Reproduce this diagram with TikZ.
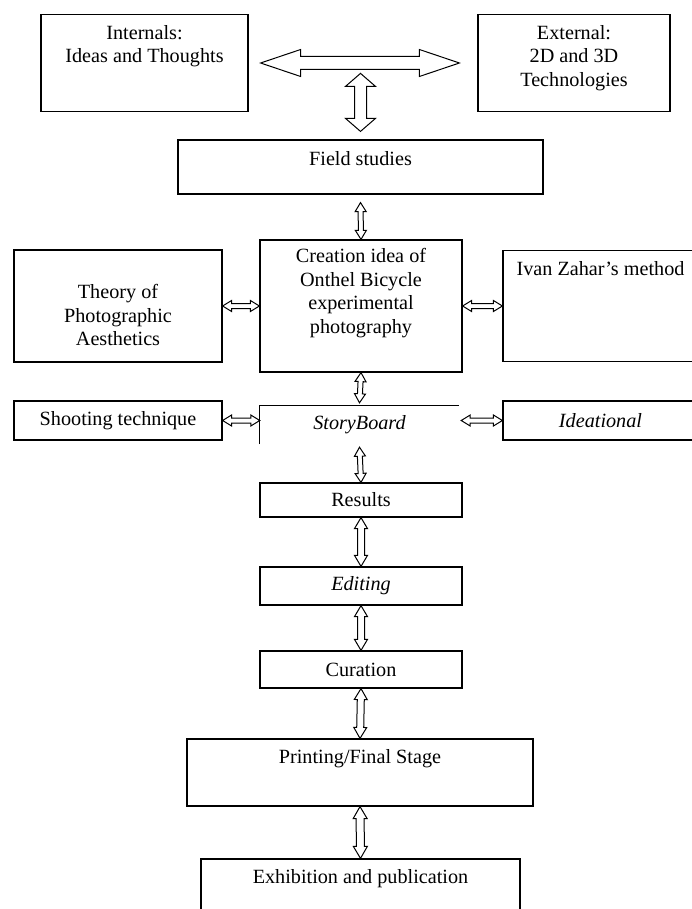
\documentclass[tikz,border=0pt]{standalone}
\usepackage{fontspec}
\setmainfont{Liberation Serif}[Ligatures=ResetAll]
\usepackage{tikz}
\usetikzlibrary{calc, positioning}

% hollow block arrow with a head at both ends
% #1, #2 end points, #3 half shaft, #4 half head, #5 head length
\newcommand{\blockarrow}[5]{%
	\path ($(#1)!#5!(#2)$) coordinate (ba) ($(#2)!#5!(#1)$) coordinate (bb);
	\draw[arrowline] (#1) -- ($(ba)!#4!90:(#2)$) -- ($(ba)!#3!90:(#2)$)
		-- ($(bb)!#3!-90:(#1)$) -- ($(bb)!#4!-90:(#1)$) -- (#2)
		-- ($(bb)!#4!90:(#1)$) -- ($(bb)!#3!90:(#1)$)
		-- ($(ba)!#3!-90:(#2)$) -- ($(ba)!#4!-90:(#2)$) -- cycle;
}
\newcommand{\smallarrow}[2]{\blockarrow{#1}{#2}{2.5pt}{5.5pt}{9pt}}
\newcommand{\midarrow}[2]{\blockarrow{#1}{#2}{3.5pt}{6.5pt}{11pt}}

\tikzset{
	box/.style={draw, line width=1.2pt, inner sep=0pt, align=center},
	txt/.style={inner sep=0pt, align=center},
	arrowline/.style={draw, line width=1pt, line join=miter, fill=white},
}

\begin{document}
\begin{tikzpicture}[x=1pt, y=-1pt,
			font=\fontsize{20.2}{23.5}\selectfont]
		\useasboundingbox (0,0) rectangle (691,909);

		% top row
		\node[box, minimum width=207pt, minimum height=97pt] (internals) at (144.5,63) {};
		\node[txt, below=11pt of internals.north] (internalstxt)
			{\fontsize{20.2}{24.5}\selectfont Internals:\\Ideas and Thoughts};
		\node[box, minimum width=192pt, minimum height=97pt] (external) at (574,63) {};
		\node[txt, below=11pt of external.north] (externaltxt)
			{\fontsize{20.2}{24.5}\selectfont External:\\2D and 3D\\Technologies};

		\node[box, minimum width=365pt, minimum height=54pt] (field) at (360.5,167) {};
		\node[txt] (fieldtxt) at ($(field.center)+(0,-8)$) {Field studies};

		% middle rows
		\node[box, minimum width=202pt, minimum height=132pt] (creation) at (361,306) {};
		\node[txt] (creationtxt) at ($(creation.center)+(0,-13)$)
			{Creation idea of\\Onthel Bicycle\\experimental\\photography};
		\node[box, minimum width=208pt, minimum height=112pt] (theory) at (118,306) {};
		\node[txt] (theorytxt) at ($(theory.center)+(0,9)$)
			{Theory of\\Photographic\\Aesthetics};
		\node[box, minimum width=195pt, minimum height=111pt] (ivan) at (600.5,306) {};
		\node[txt, below=11pt of ivan.north] (ivantxt) {Ivan Zahar's method};

		\node[box, minimum width=208pt, minimum height=39pt] (shooting) at (118,420.5) {Shooting technique};
		\node[txt, minimum width=199pt, minimum height=38pt] (storyboard) at (359.5,425) {\textit{StoryBoard}};
		\node[box, minimum width=195pt, minimum height=39pt] (ideational) at (600.5,420.5) {\textit{Ideational}};
		\draw[line width=1.2pt] (storyboard.south west) -- (storyboard.north west) -- (storyboard.north east);

		% lower chain
		\node[box, minimum width=202pt, minimum height=34pt] (results) at (361,500) {Results};
		\node[box, minimum width=202pt, minimum height=38pt] (editing) at (361,586) {\textit{Editing}};
		\node[box, minimum width=202pt, minimum height=37pt] (curation) at (361,669.5) {Curation};
		\node[box, minimum width=346pt, minimum height=67pt] (printing) at (360,772.5) {};
		\node[txt, below=11pt of printing.north] (printingtxt) {Printing/Final Stage};
		\node[box, minimum width=319pt, minimum height=71pt] (exhibition) at (360.5,894.5) {};
		\node[txt, below=11pt of exhibition.north] (exhibitiontxt) {Exhibition and publication};

		% arrows
		\coordinate (ie) at ($(internals.east)+(12,0)$);
		\coordinate (ee) at ($(external.west)+(-18,0)$);
		\blockarrow{ie}{ee}{6.5pt}{13.5pt}{40pt}
		\coordinate (ft) at ($(field.north)+(0,-66)$);
		\coordinate (fn) at ($(field.north)+(0,-8)$);
		\blockarrow{ft}{fn}{6pt}{15pt}{13pt}

		\coordinate (fs) at ($(field.south)+(0,8)$);
		\smallarrow{fs}{creation.north}
		\smallarrow{theory.east}{creation.west}
		\smallarrow{creation.east}{ivan.west}
		\coordinate (sn) at ($(storyboard.north)+(0,-3)$);
		\smallarrow{creation.south}{sn}
		\coordinate (sw) at (shooting.east -| storyboard.west);
		\smallarrow{shooting.east}{sw}
		\coordinate (se) at ($(ideational.west -| storyboard.east)+(2,0)$);
		\smallarrow{se}{ideational.west}
		\coordinate (ss) at ($(storyboard.south)+(0,3)$);
		\smallarrow{ss}{results.north}

		\foreach \a/\b in {results/editing, editing/curation, curation/printing} {
				\midarrow{\a.south}{\b.north}
			}
		\blockarrow{printing.south}{exhibition.north}{4pt}{7pt}{12pt}

		%\node[right=20pt of exhibition.east] {Act};
	\end{tikzpicture}
\end{document}
